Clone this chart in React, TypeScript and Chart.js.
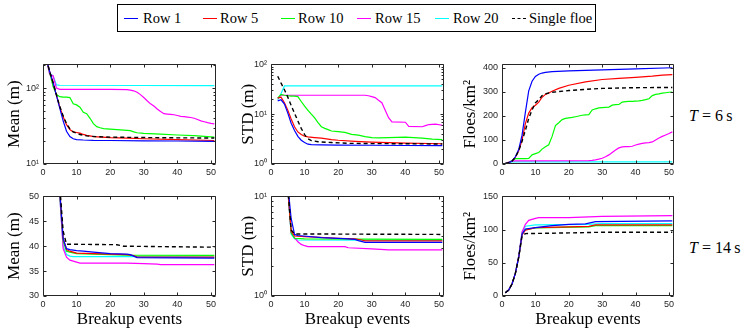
import React, { useEffect, useRef } from 'react';
import { Chart, registerables } from 'chart.js';
Chart.register(...registerables);

type Pt = [number, number];

// ---------- data ----------
const xTicks = [0, 10, 20, 30, 40, 50];
const yTicksMeanT6 = [10, 100];
const yTicksStdT6 = [1, 10, 100];
const yTicksFloesT6 = [0, 100, 200, 300, 400];
const yTicksMeanT14 = [30, 35, 40, 45, 50];
const yTicksStdT14 = [1, 10];
const yTicksFloesT14 = [0, 50, 100, 150];

const seriesNames = ['Row 1', 'Row 5', 'Row 10', 'Row 15', 'Row 20', 'Single floe'];
const periodLabels = ['T = 6 s', 'T = 14 s'];

// Mean, T = 6 s
const meanT6Row1: Pt[] = [[1, 240], [2, 165], [3, 118], [4, 80], [5, 54], [6, 37], [7, 27], [8, 23], [9, 21.5], [10, 21], [12, 20.7], [15, 20.5], [20, 20.4], [30, 20.2], [40, 20.1], [51, 19.9]];
const meanT6Row5: Pt[] = [[1, 240], [2, 165], [3, 118], [4, 80], [5, 56], [6, 42], [7, 33], [8, 28.5], [9, 26.5], [10, 26], [11, 25.5], [12, 24.5], [13, 23.8], [14, 23.4], [15, 23], [20, 22.3], [25, 21.9], [30, 21.5], [40, 21], [51, 20.4]];
const meanT6Row10: Pt[] = [[1, 240], [2, 160], [3, 105], [4, 82], [5, 77], [6, 76], [7, 76], [8, 75], [9, 62], [10, 60], [11, 56], [12, 48], [13, 46], [14, 40], [15, 34], [16, 31], [17, 30], [18, 29.3], [20, 28.8], [25, 27.8], [26, 27.5], [27, 26.5], [28, 25.8], [30, 25.3], [35, 24.7], [40, 24.1], [45, 23.6], [51, 22.6]];
const meanT6Row15: Pt[] = [[1, 240], [2, 150], [3, 145], [4, 100], [5, 96], [20, 96], [25, 95.5], [26, 94], [27, 92], [28, 88], [29, 82], [30, 75], [31, 68], [32, 62], [33, 58], [34, 53], [35, 49], [36, 46], [37, 45.5], [38, 45], [39, 44.5], [40, 43.5], [41, 42.5], [42, 42], [43, 41.5], [44, 41], [45, 40], [46, 38.5], [47, 37], [48, 36], [49, 35], [50, 34.3], [51, 33.8]];
const meanT6Row20: Pt[] = [[1, 240], [2, 155], [3, 145], [4, 110], [5, 109], [51, 108]];
const meanT6Single: Pt[] = [[1, 240], [2, 165], [3, 118], [4, 82], [5, 57], [6, 43], [7, 34], [8, 29], [9, 26.5], [10, 25.5], [11, 24.5], [12, 24], [13, 23.5], [14, 23.2], [16, 22.9], [20, 22.6], [30, 22.3], [40, 22.1], [51, 22]];

// STD, T = 6 s
const stdT6Row1: Pt[] = [[2, 18.5], [3, 19.5], [4, 16], [5, 10.5], [6, 6.6], [7, 4.7], [8, 3.6], [9, 3], [10, 2.7], [11, 2.5], [12, 2.45], [15, 2.42], [20, 2.4], [30, 2.38], [40, 2.35], [51, 2.33]];
const stdT6Row5: Pt[] = [[2, 21], [3, 22], [4, 17], [5, 12], [6, 8], [7, 5.6], [8, 4.4], [9, 3.9], [10, 3.6], [11, 3.5], [13, 3.4], [15, 3.3], [18, 3.1], [20, 3], [25, 2.85], [30, 2.75], [40, 2.62], [51, 2.55]];
const stdT6Row10: Pt[] = [[2, 21], [3, 25], [4, 24], [5, 23.5], [6, 23], [7, 23], [8, 22.5], [9, 18], [10, 14.5], [11, 12], [12, 10], [13, 8.4], [14, 6.8], [15, 5.6], [16, 5.2], [17, 4.9], [18, 4.6], [20, 4.45], [22, 4.3], [24, 3.95], [26, 3.8], [28, 3.55], [30, 3.4], [32, 3.35], [35, 3.4], [40, 3.45], [45, 3.3], [48, 3.15], [51, 3.1]];
const stdT6Row15: Pt[] = [[2, 21], [3, 24], [4, 24], [28, 24], [29, 23.5], [30, 22.5], [31, 21.5], [32, 19], [33, 17], [34, 12], [35, 8.5], [36, 7], [40, 6.9], [41, 5.7], [45, 5.6], [46, 5.9], [47, 6.2], [49, 6.3], [51, 6]];
const stdT6Row20: Pt[] = [[2, 19.5], [3, 26], [4, 37], [51, 37]];
const stdT6Single: Pt[] = [[2, 58], [3, 42], [4, 31], [5, 22], [6, 15], [7, 10.5], [8, 7.3], [9, 5.2], [10, 3.9], [11, 3.2], [12, 2.95], [14, 2.8], [18, 2.7], [23, 2.6], [30, 2.57], [40, 2.55], [51, 2.52]];

// Floes/km2, T = 6 s
const floesT6Row1: Pt[] = [[1, 2], [2, 5], [3, 12], [4, 30], [5, 60], [6, 120], [7, 215], [8, 305], [9, 345], [10, 365], [11, 374], [12, 379], [13, 382], [15, 385], [20, 388], [30, 392], [40, 396], [51, 401]];
const floesT6Row5: Pt[] = [[1, 2], [2, 5], [3, 12], [4, 28], [5, 55], [6, 100], [7, 168], [8, 212], [9, 235], [10, 245], [11, 258], [12, 278], [13, 290], [14, 296], [15, 303], [17, 315], [20, 328], [25, 342], [30, 352], [35, 357], [40, 361], [45, 366], [48, 370], [51, 372]];
const floesT6Row10: Pt[] = [[1, 2], [2, 6], [3, 15], [4, 22], [5, 22], [6, 22], [7, 22], [8, 23], [9, 38], [10, 43], [11, 48], [12, 62], [13, 72], [14, 80], [15, 115], [16, 160], [17, 172], [18, 185], [19, 190], [20, 192], [21, 194], [22, 197], [23, 200], [24, 203], [25, 205], [26, 206], [27, 225], [28, 230], [29, 234], [30, 235], [31, 236], [32, 237], [33, 245], [34, 247], [35, 248], [36, 258], [37, 260], [38, 261], [39, 261], [40, 262], [41, 263], [42, 265], [43, 268], [44, 272], [45, 285], [46, 290], [47, 292], [48, 295], [49, 297], [50, 299], [51, 300]];
const floesT6Row15: Pt[] = [[1, 2], [2, 8], [3, 12], [4, 13], [26, 14], [27, 15], [28, 17], [29, 20], [30, 24], [31, 30], [32, 38], [33, 48], [34, 58], [35, 67], [36, 71], [37, 72], [38, 72], [39, 74], [40, 79], [41, 83], [42, 86], [43, 88], [44, 89], [45, 92], [46, 100], [47, 108], [48, 115], [49, 121], [50, 127], [51, 134]];
const floesT6Row20: Pt[] = [[1, 2], [2, 5], [3, 9], [51, 9]];
const floesT6Single: Pt[] = [[1, 2], [2, 5], [3, 12], [4, 28], [5, 55], [6, 95], [7, 140], [8, 190], [9, 225], [10, 255], [11, 268], [12, 285], [13, 292], [14, 296], [15, 299], [20, 306], [25, 311], [30, 315], [40, 318], [51, 319]];

// Mean, T = 14 s
const meanT14Row1: Pt[] = [[1, 400], [2, 200], [3, 110], [4, 72], [5, 51], [6, 41.5], [7, 39.5], [8, 39.3], [10, 39.1], [12, 39], [15, 38.8], [20, 38.5], [25, 38.4], [26, 38.3], [27, 38], [28, 37.7], [51, 37.6]];
const meanT14Row5: Pt[] = [[1, 400], [2, 200], [3, 110], [4, 72], [5, 51], [6, 41.5], [7, 39.3], [8, 39], [9, 38.8], [10, 38.6], [15, 38.5], [20, 38.4], [25, 38.3], [27, 38.1], [28, 37.8], [51, 37.8]];
const meanT14Row10: Pt[] = [[1, 400], [2, 200], [3, 110], [4, 72], [5, 50.5], [6, 41], [7, 39], [8, 38.8], [10, 38.5], [15, 38.4], [20, 38.3], [25, 38.2], [51, 38.15]];
const meanT14Row15: Pt[] = [[1, 400], [2, 200], [3, 110], [4, 72], [5, 50], [6, 39.5], [7, 37.8], [8, 37.2], [9, 37], [10, 36.8], [11, 36.6], [25, 36.6], [30, 36.5], [34, 36.4], [35, 36.3], [51, 36.3]];
const meanT14Row20: Pt[] = [[1, 400], [2, 200], [3, 110], [4, 72], [5, 50], [6, 40], [7, 38.3], [8, 38], [9, 37.9], [27, 37.9], [51, 37.8]];
const meanT14Single: Pt[] = [[1, 400], [2, 200], [3, 110], [4, 72], [5, 52], [6, 43], [7, 40.4], [22, 40.3], [24, 40], [51, 39.8]];

// STD, T = 14 s
const stdT14Row1: Pt[] = [[2, 60], [3, 40], [4, 25], [5, 13], [6, 6], [7, 4.15], [8, 4.05], [15, 3.86], [23, 3.75], [25, 3.7], [26, 3.6], [28, 3.45], [51, 3.45]];
const stdT14Row5: Pt[] = [[2, 60], [3, 40], [4, 25], [5, 12], [6, 4.5], [7, 4], [10, 3.95], [20, 3.8], [25, 3.75], [27, 3.65], [28, 3.58], [51, 3.58]];
const stdT14Row10: Pt[] = [[2, 60], [3, 40], [4, 25], [5, 12], [6, 4.3], [7, 3.8], [10, 3.75], [25, 3.72], [51, 3.7]];
const stdT14Row15: Pt[] = [[2, 60], [3, 40], [4, 25], [5, 11.5], [6, 4.3], [7, 3.85], [8, 3.5], [9, 3.3], [10, 3.2], [11, 3.13], [22, 3.13], [23, 3.05], [30, 2.97], [35, 2.9], [51, 2.9]];
const stdT14Row20: Pt[] = [[2, 60], [3, 40], [4, 25], [5, 11.5], [6, 4.2], [7, 3.75], [8, 3.65], [51, 3.62]];
const stdT14Single: Pt[] = [[2, 60], [3, 40], [4, 25], [5, 12.5], [6, 4.6], [7, 4.2], [51, 4.15]];

// Floes/km2, T = 14 s
const floesT14Row1: Pt[] = [[1, 5], [2, 9], [3, 18], [4, 34], [5, 58], [6, 93], [7, 101], [10, 103], [15, 106], [20, 108], [25, 108.5], [28, 112], [51, 113]];
const floesT14Row5: Pt[] = [[1, 5], [2, 9], [3, 18], [4, 34], [5, 58], [6, 92], [7, 99], [10, 103], [20, 104], [26, 105], [28, 107], [51, 107]];
const floesT14Row10: Pt[] = [[1, 5], [2, 9], [3, 18], [4, 34], [5, 58], [6, 93], [7, 100], [10, 102.5], [26, 104], [28, 106], [51, 106]];
const floesT14Row15: Pt[] = [[1, 5], [2, 9], [3, 18], [4, 34], [5, 60], [6, 96], [7, 108], [8, 114], [10, 117], [11, 118], [20, 118], [30, 120], [51, 121]];
const floesT14Row20: Pt[] = [[1, 5], [2, 9], [3, 18], [4, 34], [5, 60], [6, 96], [7, 105], [10, 107], [25, 108], [30, 109], [51, 109]];
const floesT14Single: Pt[] = [[1, 5], [2, 9], [3, 18], [4, 34], [5, 58], [6, 90], [7, 94], [20, 95], [30, 96], [51, 96]];

// ---------- styles ----------
const COLORS = ['#0000ff', '#ff0000', '#00ff00', '#ff00ff', '#00ffff', '#000000'];
const SERIF = '"Liberation Serif", "Times New Roman", serif';
const SANS = '"Liberation Sans", Arial, sans-serif';
const AXIS_W = 43;
const PAD_TOP = 8;
const PAD_RIGHT = 6;

type PanelCfg = {
  left: number; top: number; w: number; h: number;
  log: boolean; yMin: number; yMax: number; yTicks: number[];
  yTitle: string; titleCenter: number; xTitle: boolean;
  series: Pt[][];
};

const COLS = [{ left: 43, w: 173 }, { left: 271, w: 173 }, { left: 502, w: 172 }];
const ROWS = [{ top: 63, h: 101 }, { top: 195, h: 101 }];
const TITLE_CENTERS = [15, 249, 471];

const panels: PanelCfg[] = [
  { ...COLS[0], ...ROWS[0], log: true, yMin: 10, yMax: 205, yTicks: yTicksMeanT6, yTitle: 'Mean (m)', titleCenter: TITLE_CENTERS[0], xTitle: false,
    series: [meanT6Row1, meanT6Row5, meanT6Row10, meanT6Row15, meanT6Row20, meanT6Single] },
  { ...COLS[1], ...ROWS[0], log: true, yMin: 1, yMax: 100, yTicks: yTicksStdT6, yTitle: 'STD (m)', titleCenter: TITLE_CENTERS[1], xTitle: false,
    series: [stdT6Row1, stdT6Row5, stdT6Row10, stdT6Row15, stdT6Row20, stdT6Single] },
  { ...COLS[2], ...ROWS[0], log: false, yMin: 0, yMax: 415, yTicks: yTicksFloesT6, yTitle: 'Floes/km²', titleCenter: TITLE_CENTERS[2], xTitle: false,
    series: [floesT6Row1, floesT6Row5, floesT6Row10, floesT6Row15, floesT6Row20, floesT6Single] },
  { ...COLS[0], ...ROWS[1], log: false, yMin: 30, yMax: 50, yTicks: yTicksMeanT14, yTitle: 'Mean (m)', titleCenter: TITLE_CENTERS[0], xTitle: true,
    series: [meanT14Row1, meanT14Row5, meanT14Row10, meanT14Row15, meanT14Row20, meanT14Single] },
  { ...COLS[1], ...ROWS[1], log: true, yMin: 1, yMax: 10, yTicks: yTicksStdT14, yTitle: 'STD (m)', titleCenter: TITLE_CENTERS[1], xTitle: true,
    series: [stdT14Row1, stdT14Row5, stdT14Row10, stdT14Row15, stdT14Row20, stdT14Single] },
  { ...COLS[2], ...ROWS[1], log: false, yMin: 0, yMax: 150, yTicks: yTicksFloesT14, yTitle: 'Floes/km²', titleCenter: TITLE_CENTERS[2], xTitle: true,
    series: [floesT14Row1, floesT14Row5, floesT14Row10, floesT14Row15, floesT14Row20, floesT14Single] },
];

const SUP: Record<string, string> = { '0': '⁰', '1': '¹', '2': '²', '3': '³', '-': '⁻' };
const logLabel = (v: number) => '10' + String(Math.round(Math.log10(v))).split('').map((c) => SUP[c] ?? c).join('');

const framePlugin = {
  id: 'matlabFrame',
  afterDatasetsDraw(chart: any) {
    const { ctx, chartArea: a, scales } = chart;
    const xs = scales.x, ys = scales.y;
    const L = Math.round(a.left) + 0.5, R = Math.round(a.right) - 0.5;
    const T = Math.round(a.top) + 0.5, B = Math.round(a.bottom) - 0.5;
    ctx.save();
    ctx.strokeStyle = '#262626';
    ctx.lineWidth = 1;
    ctx.beginPath();
    ctx.rect(L, T, R - L, B - T);
    const major = 3, minor = 2;
    for (const t of xs.ticks) {
      const px = Math.round(xs.getPixelForValue(t.value)) + 0.5;
      ctx.moveTo(px, B); ctx.lineTo(px, B - major);
      ctx.moveTo(px, T); ctx.lineTo(px, T + major);
    }
    for (const t of ys.ticks) {
      const py = Math.round(ys.getPixelForValue(t.value)) + 0.5;
      ctx.moveTo(L, py); ctx.lineTo(L + major, py);
      ctx.moveTo(R, py); ctx.lineTo(R - major, py);
    }
    if (ys.type === 'logarithmic') {
      const lo = Math.floor(Math.log10(ys.min)), hi = Math.ceil(Math.log10(ys.max));
      for (let d = lo; d <= hi; d++) {
        for (let k = 2; k <= 9; k++) {
          const v = k * Math.pow(10, d);
          if (v <= ys.min || v >= ys.max) continue;
          const py = Math.round(ys.getPixelForValue(v)) + 0.5;
          ctx.moveTo(L, py); ctx.lineTo(L + minor, py);
          ctx.moveTo(R, py); ctx.lineTo(R - minor, py);
        }
      }
    }
    ctx.stroke();
    ctx.restore();
  },
};

function Panel({ cfg }: { cfg: PanelCfg }) {
  const ref = useRef<HTMLCanvasElement>(null);
  const xAxisH = cfg.xTitle ? 34 : 16;
  const cw = AXIS_W + cfg.w + PAD_RIGHT;
  const ch = PAD_TOP + cfg.h + xAxisH;
  const cl = cfg.left - AXIS_W;
  const ct = cfg.top - PAD_TOP;
  useEffect(() => {
    const titleFont = { family: SERIF, size: 17, lineHeight: 1.2 };
    const tickFont = { family: SANS, size: 9 };
    const chart = new Chart(ref.current as HTMLCanvasElement, {
      type: 'line',
      data: {
        datasets: cfg.series.map((pts, i) => ({
          label: seriesNames[i],
          data: pts.map(([x, y]) => ({ x, y })),
          borderColor: COLORS[i],
          backgroundColor: COLORS[i],
          borderWidth: i === 5 ? 1.4 : 1.2,
          borderDash: i === 5 ? [4, 3] : [],
          pointRadius: 0,
          tension: 0,
          fill: false,
          order: i === 5 ? 0 : i + 1,
        })),
      },
      options: {
        animation: false,
        responsive: false,
        layout: { padding: { left: 0, top: PAD_TOP, right: PAD_RIGHT, bottom: 0 } },
        plugins: { legend: { display: false }, tooltip: { enabled: false }, title: { display: false } },
        scales: {
          x: {
            type: 'linear', min: 0, max: 51.5,
            afterBuildTicks: (s: any) => { s.ticks = xTicks.map((v) => ({ value: v })); },
            afterFit: (s: any) => { s.height = xAxisH; },
            grid: { display: false, drawTicks: false },
            border: { display: false },
            ticks: { font: tickFont, color: '#262626', padding: 3, maxRotation: 0, autoSkip: false, callback: (v: any) => String(v) },
            title: { display: cfg.xTitle, text: 'Breakup events', font: titleFont, color: '#000', padding: { top: 0, bottom: 0 } },
          },
          y: {
            type: cfg.log ? 'logarithmic' : 'linear', min: cfg.yMin, max: cfg.yMax,
            afterBuildTicks: (s: any) => { s.ticks = cfg.yTicks.map((v) => ({ value: v })); },
            afterFit: (s: any) => { s.width = AXIS_W; },
            grid: { display: false, drawTicks: false },
            border: { display: false },
            ticks: { font: tickFont, color: '#262626', padding: 4, autoSkip: false, callback: (v: any) => (cfg.log ? logLabel(Number(v)) : String(v)) },
            title: {
              display: true, text: cfg.yTitle, font: titleFont, color: '#000',
              padding: { top: cfg.titleCenter - cl - 10.2, bottom: 0 },
            },
          },
        } as any,
      },
      plugins: [framePlugin],
    } as any);
    return () => chart.destroy();
  }, []);
  return <canvas ref={ref} width={cw} height={ch} style={{ position: 'absolute', left: cl, top: ct, width: cw, height: ch }} />;
}

const legendItems = [
  { line: 6, text: 25 }, { line: 85, text: 102 }, { line: 163, text: 180 },
  { line: 239, text: 257 }, { line: 317, text: 335 }, { line: 394, text: 411 },
];

function Legend() {
  return (
    <div style={{ position: 'absolute', left: 117, top: 4, width: 479, height: 28, boxSizing: 'border-box', border: '1px solid #000', background: '#fff', fontFamily: SERIF, fontSize: 14.5 }}>
      {legendItems.map((it, i) => (
        <React.Fragment key={i}>
          <div style={{ position: 'absolute', left: it.line, top: 13, width: 14, height: 0, borderTop: i === 5 ? '1.4px dashed #000' : `1.2px solid ${COLORS[i]}` }} />
          <div style={{ position: 'absolute', left: it.text, top: 4, lineHeight: '18px', whiteSpace: 'nowrap', color: '#000' }}>{seriesNames[i]}</div>
        </React.Fragment>
      ))}
    </div>
  );
}

function PeriodLabel({ text, top }: { text: string; top: number }) {
  const [sym, ...rest] = text.split(' ');
  return (
    <div style={{ position: 'absolute', left: 689, top, fontFamily: SERIF, fontSize: 16, lineHeight: '20px', whiteSpace: 'nowrap', color: '#000' }}>
      <i>{sym}</i>{' ' + rest.slice(0, -1).join(' ')}{'\u2009' + rest[rest.length - 1]}
    </div>
  );
}

export default function App() {
  return (
    <div style={{ position: 'absolute', left: 0, top: 0, width: 747, height: 330, background: '#fff', overflow: 'hidden' }}>
      <Legend />
      {panels.map((p, i) => <Panel key={i} cfg={p} />)}
      <PeriodLabel text={periodLabels[0]} top={106} />
      <PeriodLabel text={periodLabels[1]} top={238} />
    </div>
  );
}
